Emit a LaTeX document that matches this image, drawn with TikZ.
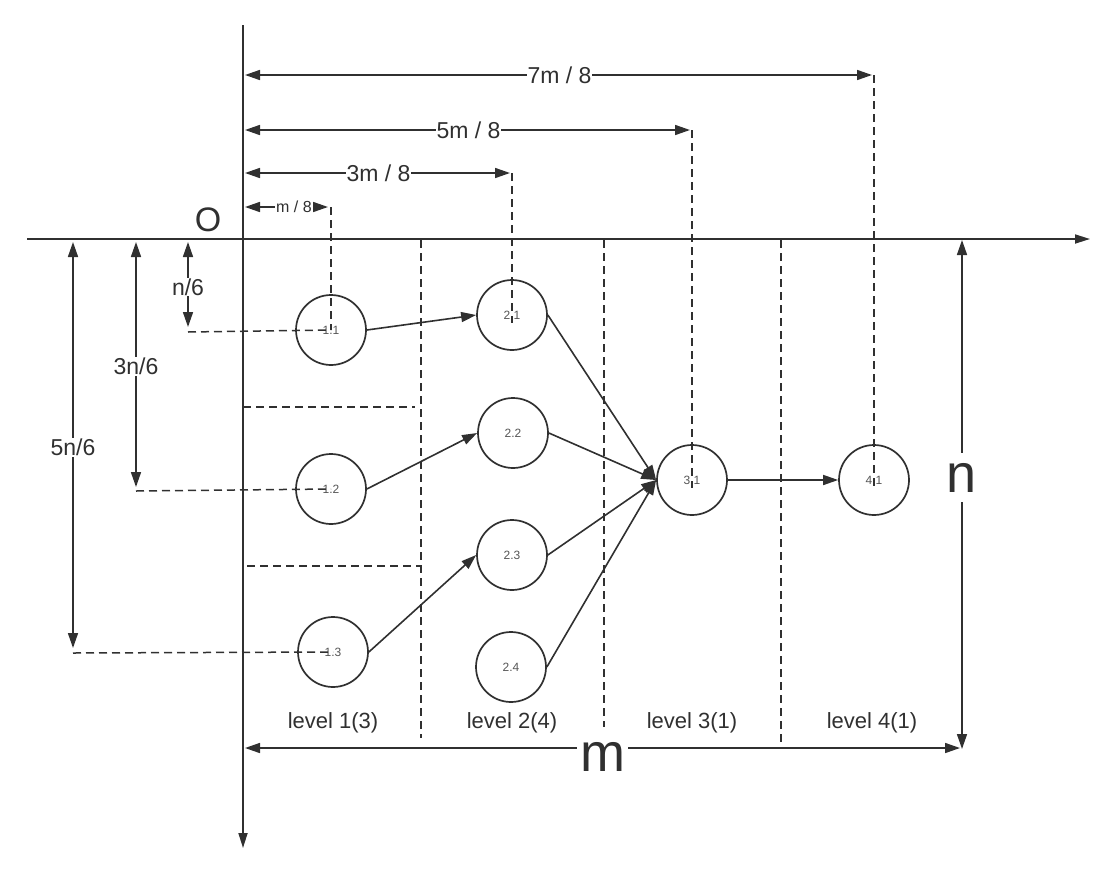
\documentclass[tikz,border=0pt]{standalone}
\usepackage{fontspec}
\setmainfont{Liberation Sans}
\usetikzlibrary{arrows.meta,positioning}

\definecolor{ink}{HTML}{303030}
\definecolor{numgray}{HTML}{555555}

\tikzset{
  unit/.style={draw=ink, circle, minimum size=70pt, inner sep=0pt, line width=1.7pt,
    text=numgray, font=\fontsize{12}{12}\selectfont},
  flow/.style={draw=ink, line width=1.6pt, -{Triangle[length=15pt,width=10pt]}},
  axis/.style={draw=ink, line width=1.7pt, -{Triangle[length=15pt,width=9pt]}},
  dim/.style={draw=ink, line width=1.6pt, {Triangle[length=15pt,width=10pt]}-{Triangle[length=15pt,width=10pt]}},
  guide/.style={draw=ink, line width=1.5pt, dash pattern=on 8pt off 5pt},
  dimlabel/.style={fill=white, inner sep=1pt, text=ink, font=\fontsize{23}{23}\selectfont},
  biglabel/.style={fill=white, inner sep=3pt, text=ink, font=\fontsize{54}{54}\selectfont},
  levellabel/.style={text=ink, font=\fontsize{22}{22}\selectfont},
}

\begin{document}
\begin{tikzpicture}[x=1pt,y=-1pt]
    \useasboundingbox (0,0) rectangle (1116,873);
    % Axes
    \coordinate (xstart) at (27,239);
    \coordinate (xend) at (1090,239);
    \coordinate (ystart) at (243,25);
    \coordinate (yend) at (243,848);
    \draw[axis] (xstart) -- (xend);
    \draw[axis] (ystart) -- (yend);
    \node[text=ink, font=\fontsize{34}{34}\selectfont] (origin) at (208,220) {O};
    %
    % Units of each level
    \node[unit] (n11) at (331,330) {1.1};
    \node[unit] (n12) at (331,489) {1.2};
    \node[unit] (n13) at (333,652) {1.3};
    \node[unit] (n21) at (512,315) {2.1};
    \node[unit] (n22) at (513,433) {2.2};
    \node[unit] (n23) at (512,555) {2.3};
    \node[unit] (n24) at (511,667) {2.4};
    \node[unit] (n31) at (692,480) {3.1};
    \node[unit] (n41) at (874,480) {4.1};
    %
    % Edges between levels
    \draw[flow] (n11.east) -- (n21.west);
    \draw[flow] (n12.east) -- (n22.west);
    \draw[flow] (n13.east) -- (n23.west);
    \draw[flow] (n21.east) -- (n31.west);
    \draw[flow] (n22.east) -- (n31.west);
    \draw[flow] (n23.east) -- (n31.west);
    \draw[flow] (n24.east) -- (n31.west);
    \draw[flow] (n31.east) -- (n41.west);
    %
    % Level borders
    \coordinate (b1top) at (421,240);  \coordinate (b1bot) at (421,738);
    \coordinate (b2top) at (604,240);  \coordinate (b2bot) at (604,727);
    \coordinate (b3top) at (781,240);  \coordinate (b3bot) at (781,748);
    \draw[guide] (b1top) -- (b1bot);
    \draw[guide] (b2top) -- (b2bot);
    \draw[guide] (b3top) -- (b3bot);
    \coordinate (r1left) at (243,407); \coordinate (r1right) at (415,407);
    \coordinate (r2left) at (247,566); \coordinate (r2right) at (420,566);
    \draw[guide] (r1left) -- (r1right);
    \draw[guide] (r2left) -- (r2right);
    %
    % Horizontal offsets: m / 8, 3m / 8, 5m / 8, 7m / 8
    \coordinate (h1a) at (245,207); \coordinate (h1b) at (331,207);
    \coordinate (h3a) at (245,173); \coordinate (h3b) at (512,173);
    \coordinate (h5a) at (245,130); \coordinate (h5b) at (692,130);
    \coordinate (h7a) at (245,75);  \coordinate (h7b) at (874,75);
    \draw[dim, shorten >=3pt] (h1a) -- node[dimlabel, font=\fontsize{16}{16}\selectfont, xshift=6pt] (lm1) {m / 8} (h1b);
    \draw[dim, shorten >=2pt] (h3a) -- node[dimlabel] (lm3) {3m / 8} (h3b);
    \draw[dim, shorten >=2pt] (h5a) -- node[dimlabel] (lm5) {5m / 8} (h5b);
    \draw[dim, shorten >=2pt] (h7a) -- node[dimlabel] (lm7) {7m / 8} (h7b);
    \draw[guide] (h1b) -- (n11.center);
    \draw[guide] (h3b) -- ([yshift=-8pt]n21.center);
    \draw[guide] (h5b) -- ([yshift=-8pt]n31.center);
    \draw[guide] (h7b) -- ([yshift=-8pt]n41.center);
    %
    % Vertical offsets: n/6, 3n/6, 5n/6
    \coordinate (v1a) at (188,242); \coordinate (v1b) at (188,332);
    \coordinate (v3a) at (136,242); \coordinate (v3b) at (136,491);
    \coordinate (v5a) at (73,242);  \coordinate (v5b) at (73,653);
    \draw[dim, shorten >=5pt] (v1a) -- node[dimlabel] (ln1) {n/6} (v1b);
    \draw[dim, shorten >=4pt] (v3a) -- node[dimlabel] (ln3) {3n/6} (v3b);
    \draw[dim, shorten >=5pt] (v5a) -- node[dimlabel] (ln5) {5n/6} (v5b);
    \draw[guide] (v1b) -- (n11.center);
    \draw[guide] (v3b) -- (n12.center);
    \draw[guide] (v5b) -- (n13.center);
    %
    % Size of the whole grid
    \coordinate (ntop) at (962,240); \coordinate (nbot) at (962,749);
    \coordinate (mleft) at (245,748); \coordinate (mright) at (960,748);
    \draw[dim] (ntop) -- node[biglabel, yshift=17pt, inner ysep=10pt] (nlbl) {n} (nbot);
    \draw[dim] (mleft) -- node[biglabel, yshift=-9pt, inner ysep=0pt] (mlbl) {m} (mright);
    %
    % Level names
    \node[levellabel] (lv1) at (333,723) {level 1(3)};
    \node[levellabel] (lv2) at (512,723) {level 2(4)};
    \node[levellabel] (lv3) at (692,723) {level 3(1)};
    \node[levellabel] (lv4) at (872,723) {level 4(1)};
\end{tikzpicture}
\end{document}
